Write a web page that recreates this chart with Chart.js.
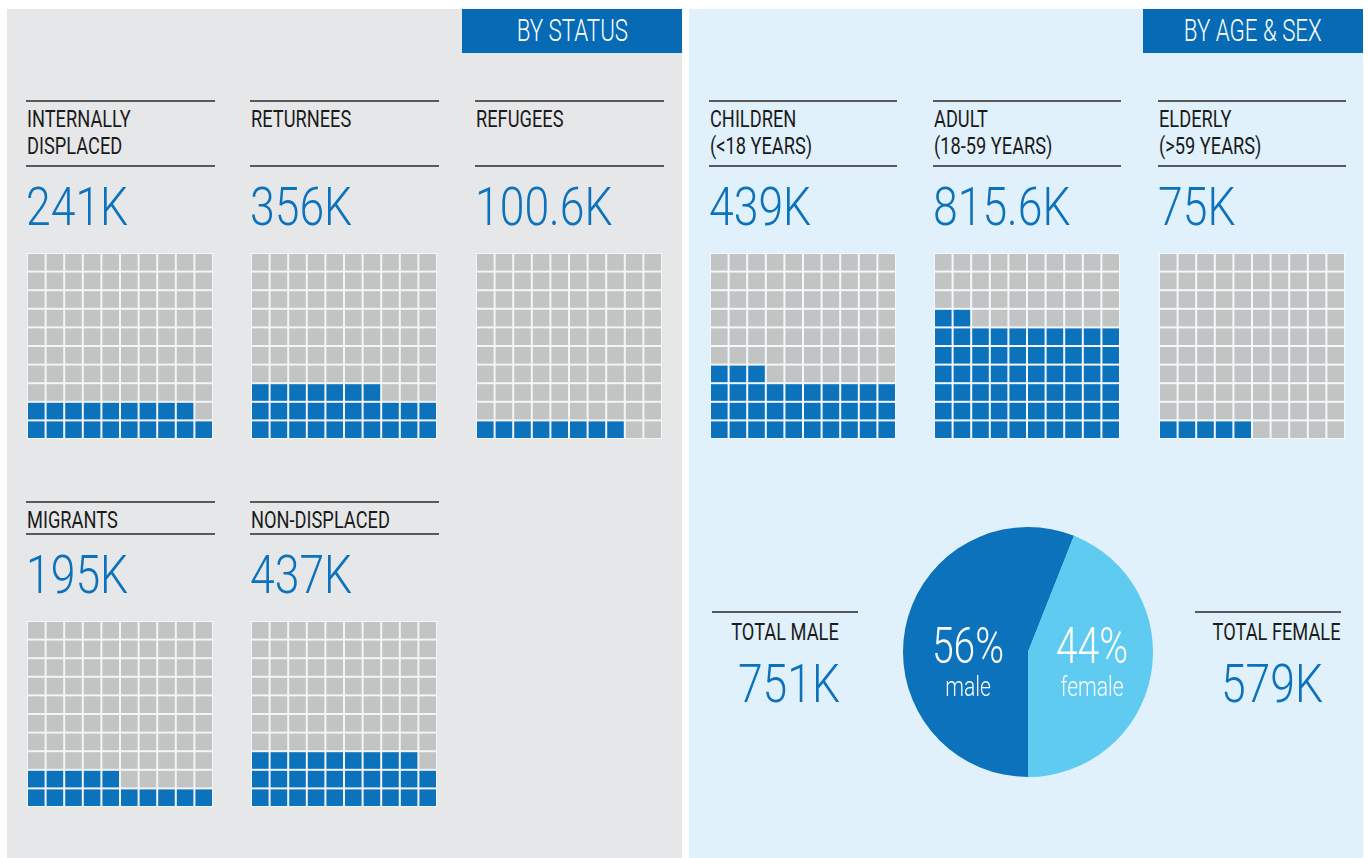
<!DOCTYPE html>
<html>
<head>
<meta charset="utf-8">
<script src="https://cdn.jsdelivr.net/npm/chart.js@4"></script>
<style>
  body { margin: 0; width: 1368px; height: 858px; background: #fff; position: relative; overflow: hidden;
         font-family: Roboto, 'Open Sans', sans-serif; }
  .panel { position: absolute; top: 9px; height: 849px; }
  .tag { position: absolute; top: 9px; height: 44px; line-height: 44px; background: #066bb4; color: #fff;
         font-size: 31px; font-weight: 300; text-align: center; }
  .tag span { display: inline-block; transform: scaleX(0.72); }
  .rule { position: absolute; height: 1.5px; background: #595959; }
  .title { position: absolute; font-size: 24px; line-height: 27px; color: #1b1b1b; white-space: pre;
           transform: scaleX(0.76); transform-origin: left top; }
  .num { position: absolute; font-size: 53px; line-height: 52px; color: #0b72bb; white-space: pre; font-weight: 300;
         transform: scaleX(0.84); transform-origin: left top; }
  .center { transform-origin: center top; text-align: center; }
  canvas { position: absolute; }
</style>
</head>
<body>
<div class="panel" style="left:7px;width:675px;background:#e6e7e9"></div>
<div class="panel" style="left:689px;width:674px;background:#e0f1fb"></div>
<div class="tag" style="left:462px;width:220px"><span>BY STATUS</span></div>
<div class="tag" style="left:1143px;width:220px"><span>BY AGE &amp; SEX</span></div>
<div id="blocks"></div>
<canvas id="pie" width="250" height="250" style="left:903px;top:527px"></canvas>

<script>
// by status
const statusTitles = ['INTERNALLY\nDISPLACED', 'RETURNEES', 'REFUGEES', 'MIGRANTS', 'NON-DISPLACED'];
const statusValues = [241, 356, 100.6, 195, 437];      // thousands
const statusCells = [19, 27, 8, 15, 29];                // filled squares out of 100

// by age
const ageTitles = ['CHILDREN\n(<18 YEARS)', 'ADULT\n(18-59 YEARS)', 'ELDERLY\n(>59 YEARS)'];
const ageValues = [439, 815.6, 75];
const ageCells = [33, 62, 5];

// by sex
const sexLabels = ['male', 'female'];
const sexShare = [56, 44];
const sexTotals = [751, 579];
const sexTitles = ['TOTAL MALE', 'TOTAL FEMALE'];

const BLUE = '#0b72bb';
const LIGHT = '#5fcbf1';
const GREY = '#c2c3c3';
const CELL = 16.6;

const blocks = document.getElementById('blocks');
function add(cls, text, style) {
  const d = document.createElement('div');
  d.className = cls;
  d.textContent = text;
  d.style.cssText = style;
  blocks.appendChild(d);
  return d;
}

function makeWaffle(x, y, filled, gap) {
  const c = document.createElement('canvas');
  c.width = 186; c.height = 186;
  c.style.left = x + 'px'; c.style.top = y + 'px'; c.style.background = gap;
  document.body.appendChild(c);
  const on = [], off = [];
  for (let i = 0; i < 100; i++) {
    const pt = { x: i % 10 + 0.5, y: Math.floor(i / 10) + 0.5 };
    (i < filled ? on : off).push(pt);
  }
  const ds = (data, color) => ({
    data, backgroundColor: color, borderWidth: 0, pointStyle: 'rect',
    pointRadius: CELL / Math.SQRT2, pointHoverRadius: CELL / Math.SQRT2
  });
  new Chart(c, {
    type: 'scatter',
    data: { datasets: [ds(on, BLUE), ds(off, GREY)] },
    options: {
      responsive: false, animation: false,
      layout: { padding: 0, autoPadding: false },
      plugins: { legend: { display: false }, tooltip: { enabled: false } },
      scales: {
        x: { display: false, min: 0, max: 10 },
        y: { display: false, min: 0, max: 10 }
      }
    }
  });
}

function block(x, w, top, title, value, cells, gap, twoRows) {
  add('rule', '', `left:${x - 1}px;width:${w}px;top:${top}px`);
  add('title', title, `left:${x}px;top:${top + 6}px`);
  const r2 = twoRows ? top + 65 : top + 32;
  add('rule', '', `left:${x - 1}px;width:${w}px;top:${r2}px`);
  add('num', value + 'K', `left:${x - 1}px;top:${r2 + 16}px`);
  makeWaffle(x, r2 + 88, cells, gap);
}

const statusX = [27, 251, 476, 27, 251];
statusTitles.forEach((t, i) => {
  const row2 = i >= 3;
  block(statusX[i], 189, row2 ? 501 : 100, t, statusValues[i], statusCells[i], '#f3f4f5', !row2);
});

const ageX = [710, 934, 1159];
ageTitles.forEach((t, i) => block(ageX[i], 188, 100, t, ageValues[i], ageCells[i], '#f1f9fe', true));

// totals beside the pie
const totalX = [712, 1195];
sexTitles.forEach((t, i) => {
  add('rule', '', `left:${totalX[i]}px;width:146px;top:611px`);
  add('title center', t, `left:${totalX[i]}px;width:146px;top:619px`);
  add('num center', sexTotals[i] + 'K', `left:${totalX[i] + 4}px;width:146px;top:658px`);
});

const pieLabels = {
  id: 'pieLabels',
  afterDatasetsDraw(chart) {
    const { ctx } = chart;
    const arc = chart.getDatasetMeta(0).data[0];
    const offs = [-60, 64];
    ctx.save();
    ctx.fillStyle = '#fff';
    ctx.textAlign = 'center';
    sexLabels.forEach((l, i) => {
      ctx.save();
      ctx.translate(arc.x + offs[i], arc.y);
      ctx.scale(0.78, 1);
      ctx.font = '300 50px Roboto, sans-serif';
      ctx.fillText(sexShare[i] + '%', 0, 11);
      ctx.font = '300 27px Roboto, sans-serif';
      ctx.fillText(l, 0, 44);
      ctx.restore();
    });
    ctx.restore();
  }
};

new Chart(document.getElementById('pie'), {
  type: 'pie',
  data: {
    labels: sexLabels,
    datasets: [{ data: sexShare, backgroundColor: [BLUE, LIGHT], borderWidth: 0 }]
  },
  options: {
    responsive: false, animation: false, rotation: 180,
    layout: { padding: 0 },
    plugins: { legend: { display: false }, tooltip: { enabled: false } }
  },
  plugins: [pieLabels]
});
</script>
</body>
</html>
